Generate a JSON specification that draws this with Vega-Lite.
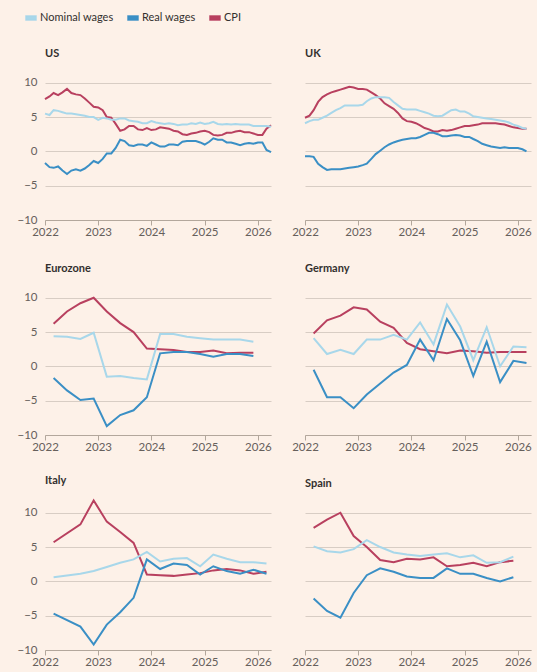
{
  "$schema": "https://vega.github.io/schema/vega-lite/v6.json",
  "background": "#fdf1e8",
  "padding": {"left": 16, "top": 12, "right": 5, "bottom": 5},
  "data": {
    "format": {"parse": {"d": "utc:'%Y-%m-%d'"}},
    "values": [
      {"c":"US","s":"CPI","d":"2022-01-01","v":7.6},{"c":"US","s":"CPI","d":"2022-02-01","v":8.0},{"c":"US","s":"CPI","d":"2022-03-01","v":8.5},{"c":"US","s":"CPI","d":"2022-04-01","v":8.2},{"c":"US","s":"CPI","d":"2022-05-01","v":8.6},{"c":"US","s":"CPI","d":"2022-06-01","v":9.1},{"c":"US","s":"CPI","d":"2022-07-01","v":8.5},{"c":"US","s":"CPI","d":"2022-08-01","v":8.3},{"c":"US","s":"CPI","d":"2022-09-01","v":8.2},{"c":"US","s":"CPI","d":"2022-10-01","v":7.7},{"c":"US","s":"CPI","d":"2022-11-01","v":7.1},{"c":"US","s":"CPI","d":"2022-12-01","v":6.5},
      {"c":"US","s":"CPI","d":"2023-01-01","v":6.4},{"c":"US","s":"CPI","d":"2023-02-01","v":6.0},{"c":"US","s":"CPI","d":"2023-03-01","v":5.0},{"c":"US","s":"CPI","d":"2023-04-01","v":4.9},{"c":"US","s":"CPI","d":"2023-05-01","v":4.0},{"c":"US","s":"CPI","d":"2023-06-01","v":3.0},{"c":"US","s":"CPI","d":"2023-07-01","v":3.2},{"c":"US","s":"CPI","d":"2023-08-01","v":3.7},{"c":"US","s":"CPI","d":"2023-09-01","v":3.7},{"c":"US","s":"CPI","d":"2023-10-01","v":3.2},{"c":"US","s":"CPI","d":"2023-11-01","v":3.1},{"c":"US","s":"CPI","d":"2023-12-01","v":3.4},
      {"c":"US","s":"CPI","d":"2024-01-01","v":3.1},{"c":"US","s":"CPI","d":"2024-02-01","v":3.2},{"c":"US","s":"CPI","d":"2024-03-01","v":3.5},{"c":"US","s":"CPI","d":"2024-04-01","v":3.4},{"c":"US","s":"CPI","d":"2024-05-01","v":3.3},{"c":"US","s":"CPI","d":"2024-06-01","v":3.0},{"c":"US","s":"CPI","d":"2024-07-01","v":2.9},{"c":"US","s":"CPI","d":"2024-08-01","v":2.5},{"c":"US","s":"CPI","d":"2024-09-01","v":2.4},{"c":"US","s":"CPI","d":"2024-10-01","v":2.6},{"c":"US","s":"CPI","d":"2024-11-01","v":2.7},{"c":"US","s":"CPI","d":"2024-12-01","v":2.9},
      {"c":"US","s":"CPI","d":"2025-01-01","v":3.0},{"c":"US","s":"CPI","d":"2025-02-01","v":2.8},{"c":"US","s":"CPI","d":"2025-03-01","v":2.4},{"c":"US","s":"CPI","d":"2025-04-01","v":2.3},{"c":"US","s":"CPI","d":"2025-05-01","v":2.4},{"c":"US","s":"CPI","d":"2025-06-01","v":2.7},{"c":"US","s":"CPI","d":"2025-07-01","v":2.7},{"c":"US","s":"CPI","d":"2025-08-01","v":2.9},{"c":"US","s":"CPI","d":"2025-09-01","v":3.0},{"c":"US","s":"CPI","d":"2025-10-01","v":2.8},{"c":"US","s":"CPI","d":"2025-11-01","v":2.8},{"c":"US","s":"CPI","d":"2025-12-01","v":2.6},
      {"c":"US","s":"CPI","d":"2026-01-01","v":2.4},{"c":"US","s":"CPI","d":"2026-02-01","v":2.4},{"c":"US","s":"CPI","d":"2026-03-01","v":3.3},{"c":"US","s":"CPI","d":"2026-04-01","v":3.8},

      {"c":"US","s":"Nominal wages","d":"2022-01-01","v":5.5},{"c":"US","s":"Nominal wages","d":"2022-02-01","v":5.3},{"c":"US","s":"Nominal wages","d":"2022-03-01","v":6.0},{"c":"US","s":"Nominal wages","d":"2022-04-01","v":5.9},{"c":"US","s":"Nominal wages","d":"2022-05-01","v":5.7},{"c":"US","s":"Nominal wages","d":"2022-06-01","v":5.5},{"c":"US","s":"Nominal wages","d":"2022-07-01","v":5.5},{"c":"US","s":"Nominal wages","d":"2022-08-01","v":5.4},{"c":"US","s":"Nominal wages","d":"2022-09-01","v":5.3},{"c":"US","s":"Nominal wages","d":"2022-10-01","v":5.2},{"c":"US","s":"Nominal wages","d":"2022-11-01","v":5.0},{"c":"US","s":"Nominal wages","d":"2022-12-01","v":5.0},
      {"c":"US","s":"Nominal wages","d":"2023-01-01","v":4.6},{"c":"US","s":"Nominal wages","d":"2023-02-01","v":4.9},{"c":"US","s":"Nominal wages","d":"2023-03-01","v":4.8},{"c":"US","s":"Nominal wages","d":"2023-04-01","v":4.6},{"c":"US","s":"Nominal wages","d":"2023-05-01","v":4.6},{"c":"US","s":"Nominal wages","d":"2023-06-01","v":4.8},{"c":"US","s":"Nominal wages","d":"2023-07-01","v":4.8},{"c":"US","s":"Nominal wages","d":"2023-08-01","v":4.5},{"c":"US","s":"Nominal wages","d":"2023-09-01","v":4.4},{"c":"US","s":"Nominal wages","d":"2023-10-01","v":4.3},{"c":"US","s":"Nominal wages","d":"2023-11-01","v":4.1},{"c":"US","s":"Nominal wages","d":"2023-12-01","v":4.1},
      {"c":"US","s":"Nominal wages","d":"2024-01-01","v":4.4},{"c":"US","s":"Nominal wages","d":"2024-02-01","v":4.2},{"c":"US","s":"Nominal wages","d":"2024-03-01","v":4.1},{"c":"US","s":"Nominal wages","d":"2024-04-01","v":4.0},{"c":"US","s":"Nominal wages","d":"2024-05-01","v":4.1},{"c":"US","s":"Nominal wages","d":"2024-06-01","v":4.0},{"c":"US","s":"Nominal wages","d":"2024-07-01","v":3.8},{"c":"US","s":"Nominal wages","d":"2024-08-01","v":3.9},{"c":"US","s":"Nominal wages","d":"2024-09-01","v":3.9},{"c":"US","s":"Nominal wages","d":"2024-10-01","v":4.1},{"c":"US","s":"Nominal wages","d":"2024-11-01","v":4.0},{"c":"US","s":"Nominal wages","d":"2024-12-01","v":4.2},
      {"c":"US","s":"Nominal wages","d":"2025-01-01","v":4.0},{"c":"US","s":"Nominal wages","d":"2025-02-01","v":4.1},{"c":"US","s":"Nominal wages","d":"2025-03-01","v":4.3},{"c":"US","s":"Nominal wages","d":"2025-04-01","v":4.0},{"c":"US","s":"Nominal wages","d":"2025-05-01","v":3.9},{"c":"US","s":"Nominal wages","d":"2025-06-01","v":4.0},{"c":"US","s":"Nominal wages","d":"2025-07-01","v":3.9},{"c":"US","s":"Nominal wages","d":"2025-08-01","v":4.0},{"c":"US","s":"Nominal wages","d":"2025-09-01","v":3.9},{"c":"US","s":"Nominal wages","d":"2025-10-01","v":3.9},{"c":"US","s":"Nominal wages","d":"2025-11-01","v":3.9},{"c":"US","s":"Nominal wages","d":"2025-12-01","v":3.7},
      {"c":"US","s":"Nominal wages","d":"2026-01-01","v":3.7},{"c":"US","s":"Nominal wages","d":"2026-02-01","v":3.7},{"c":"US","s":"Nominal wages","d":"2026-03-01","v":3.7},{"c":"US","s":"Nominal wages","d":"2026-04-01","v":3.6},

      {"c":"US","s":"Real wages","d":"2022-01-01","v":-1.7},{"c":"US","s":"Real wages","d":"2022-02-01","v":-2.3},{"c":"US","s":"Real wages","d":"2022-03-01","v":-2.4},{"c":"US","s":"Real wages","d":"2022-04-01","v":-2.2},{"c":"US","s":"Real wages","d":"2022-05-01","v":-2.8},{"c":"US","s":"Real wages","d":"2022-06-01","v":-3.3},{"c":"US","s":"Real wages","d":"2022-07-01","v":-2.8},{"c":"US","s":"Real wages","d":"2022-08-01","v":-2.6},{"c":"US","s":"Real wages","d":"2022-09-01","v":-2.8},{"c":"US","s":"Real wages","d":"2022-10-01","v":-2.5},{"c":"US","s":"Real wages","d":"2022-11-01","v":-2.0},{"c":"US","s":"Real wages","d":"2022-12-01","v":-1.4},
      {"c":"US","s":"Real wages","d":"2023-01-01","v":-1.7},{"c":"US","s":"Real wages","d":"2023-02-01","v":-1.1},{"c":"US","s":"Real wages","d":"2023-03-01","v":-0.3},{"c":"US","s":"Real wages","d":"2023-04-01","v":-0.3},{"c":"US","s":"Real wages","d":"2023-05-01","v":0.5},{"c":"US","s":"Real wages","d":"2023-06-01","v":1.7},{"c":"US","s":"Real wages","d":"2023-07-01","v":1.5},{"c":"US","s":"Real wages","d":"2023-08-01","v":0.9},{"c":"US","s":"Real wages","d":"2023-09-01","v":0.8},{"c":"US","s":"Real wages","d":"2023-10-01","v":1.0},{"c":"US","s":"Real wages","d":"2023-11-01","v":1.0},{"c":"US","s":"Real wages","d":"2023-12-01","v":0.8},
      {"c":"US","s":"Real wages","d":"2024-01-01","v":1.3},{"c":"US","s":"Real wages","d":"2024-02-01","v":1.0},{"c":"US","s":"Real wages","d":"2024-03-01","v":0.7},{"c":"US","s":"Real wages","d":"2024-04-01","v":0.7},{"c":"US","s":"Real wages","d":"2024-05-01","v":1.0},{"c":"US","s":"Real wages","d":"2024-06-01","v":1.0},{"c":"US","s":"Real wages","d":"2024-07-01","v":0.9},{"c":"US","s":"Real wages","d":"2024-08-01","v":1.4},{"c":"US","s":"Real wages","d":"2024-09-01","v":1.5},{"c":"US","s":"Real wages","d":"2024-10-01","v":1.5},{"c":"US","s":"Real wages","d":"2024-11-01","v":1.5},{"c":"US","s":"Real wages","d":"2024-12-01","v":1.3},
      {"c":"US","s":"Real wages","d":"2025-01-01","v":1.0},{"c":"US","s":"Real wages","d":"2025-02-01","v":1.4},{"c":"US","s":"Real wages","d":"2025-03-01","v":1.9},{"c":"US","s":"Real wages","d":"2025-04-01","v":1.7},{"c":"US","s":"Real wages","d":"2025-05-01","v":1.7},{"c":"US","s":"Real wages","d":"2025-06-01","v":1.3},{"c":"US","s":"Real wages","d":"2025-07-01","v":1.3},{"c":"US","s":"Real wages","d":"2025-08-01","v":1.1},{"c":"US","s":"Real wages","d":"2025-09-01","v":0.9},{"c":"US","s":"Real wages","d":"2025-10-01","v":1.1},{"c":"US","s":"Real wages","d":"2025-11-01","v":1.2},{"c":"US","s":"Real wages","d":"2025-12-01","v":1.1},
      {"c":"US","s":"Real wages","d":"2026-01-01","v":1.3},{"c":"US","s":"Real wages","d":"2026-02-01","v":1.3},{"c":"US","s":"Real wages","d":"2026-03-01","v":0.2},{"c":"US","s":"Real wages","d":"2026-04-01","v":-0.1},

      {"c":"UK","s":"CPI","d":"2022-01-01","v":4.9},{"c":"UK","s":"CPI","d":"2022-02-01","v":5.2},{"c":"UK","s":"CPI","d":"2022-03-01","v":6.0},{"c":"UK","s":"CPI","d":"2022-04-01","v":7.2},{"c":"UK","s":"CPI","d":"2022-05-01","v":7.9},{"c":"UK","s":"CPI","d":"2022-06-01","v":8.3},{"c":"UK","s":"CPI","d":"2022-07-01","v":8.6},{"c":"UK","s":"CPI","d":"2022-08-01","v":8.8},{"c":"UK","s":"CPI","d":"2022-09-01","v":9.0},{"c":"UK","s":"CPI","d":"2022-10-01","v":9.2},{"c":"UK","s":"CPI","d":"2022-11-01","v":9.4},{"c":"UK","s":"CPI","d":"2022-12-01","v":9.3},
      {"c":"UK","s":"CPI","d":"2023-01-01","v":9.1},{"c":"UK","s":"CPI","d":"2023-02-01","v":9.1},{"c":"UK","s":"CPI","d":"2023-03-01","v":9.0},{"c":"UK","s":"CPI","d":"2023-04-01","v":8.6},{"c":"UK","s":"CPI","d":"2023-05-01","v":8.2},{"c":"UK","s":"CPI","d":"2023-06-01","v":7.7},{"c":"UK","s":"CPI","d":"2023-07-01","v":7.0},{"c":"UK","s":"CPI","d":"2023-08-01","v":6.6},{"c":"UK","s":"CPI","d":"2023-09-01","v":6.2},{"c":"UK","s":"CPI","d":"2023-10-01","v":5.6},{"c":"UK","s":"CPI","d":"2023-11-01","v":4.8},{"c":"UK","s":"CPI","d":"2023-12-01","v":4.4},
      {"c":"UK","s":"CPI","d":"2024-01-01","v":4.3},{"c":"UK","s":"CPI","d":"2024-02-01","v":4.1},{"c":"UK","s":"CPI","d":"2024-03-01","v":3.8},{"c":"UK","s":"CPI","d":"2024-04-01","v":3.4},{"c":"UK","s":"CPI","d":"2024-05-01","v":3.2},{"c":"UK","s":"CPI","d":"2024-06-01","v":2.9},{"c":"UK","s":"CPI","d":"2024-07-01","v":2.9},{"c":"UK","s":"CPI","d":"2024-08-01","v":3.1},{"c":"UK","s":"CPI","d":"2024-09-01","v":3.0},{"c":"UK","s":"CPI","d":"2024-10-01","v":3.1},{"c":"UK","s":"CPI","d":"2024-11-01","v":3.3},{"c":"UK","s":"CPI","d":"2024-12-01","v":3.5},
      {"c":"UK","s":"CPI","d":"2025-01-01","v":3.7},{"c":"UK","s":"CPI","d":"2025-02-01","v":3.7},{"c":"UK","s":"CPI","d":"2025-03-01","v":3.8},{"c":"UK","s":"CPI","d":"2025-04-01","v":3.9},{"c":"UK","s":"CPI","d":"2025-05-01","v":4.1},{"c":"UK","s":"CPI","d":"2025-06-01","v":4.1},{"c":"UK","s":"CPI","d":"2025-07-01","v":4.1},{"c":"UK","s":"CPI","d":"2025-08-01","v":4.1},{"c":"UK","s":"CPI","d":"2025-09-01","v":4.0},{"c":"UK","s":"CPI","d":"2025-10-01","v":3.9},{"c":"UK","s":"CPI","d":"2025-11-01","v":3.7},{"c":"UK","s":"CPI","d":"2025-12-01","v":3.5},
      {"c":"UK","s":"CPI","d":"2026-01-01","v":3.4},{"c":"UK","s":"CPI","d":"2026-02-01","v":3.3},{"c":"UK","s":"CPI","d":"2026-03-01","v":3.3},

      {"c":"UK","s":"Nominal wages","d":"2022-01-01","v":4.1},{"c":"UK","s":"Nominal wages","d":"2022-02-01","v":4.4},{"c":"UK","s":"Nominal wages","d":"2022-03-01","v":4.6},{"c":"UK","s":"Nominal wages","d":"2022-04-01","v":4.6},{"c":"UK","s":"Nominal wages","d":"2022-05-01","v":4.9},{"c":"UK","s":"Nominal wages","d":"2022-06-01","v":5.2},{"c":"UK","s":"Nominal wages","d":"2022-07-01","v":5.6},{"c":"UK","s":"Nominal wages","d":"2022-08-01","v":6.0},{"c":"UK","s":"Nominal wages","d":"2022-09-01","v":6.3},{"c":"UK","s":"Nominal wages","d":"2022-10-01","v":6.7},{"c":"UK","s":"Nominal wages","d":"2022-11-01","v":6.7},{"c":"UK","s":"Nominal wages","d":"2022-12-01","v":6.7},
      {"c":"UK","s":"Nominal wages","d":"2023-01-01","v":6.7},{"c":"UK","s":"Nominal wages","d":"2023-02-01","v":6.8},{"c":"UK","s":"Nominal wages","d":"2023-03-01","v":7.3},{"c":"UK","s":"Nominal wages","d":"2023-04-01","v":7.7},{"c":"UK","s":"Nominal wages","d":"2023-05-01","v":7.9},{"c":"UK","s":"Nominal wages","d":"2023-06-01","v":7.9},{"c":"UK","s":"Nominal wages","d":"2023-07-01","v":7.9},{"c":"UK","s":"Nominal wages","d":"2023-08-01","v":7.8},{"c":"UK","s":"Nominal wages","d":"2023-09-01","v":7.2},{"c":"UK","s":"Nominal wages","d":"2023-10-01","v":6.7},{"c":"UK","s":"Nominal wages","d":"2023-11-01","v":6.2},{"c":"UK","s":"Nominal wages","d":"2023-12-01","v":6.1},
      {"c":"UK","s":"Nominal wages","d":"2024-01-01","v":6.1},{"c":"UK","s":"Nominal wages","d":"2024-02-01","v":6.1},{"c":"UK","s":"Nominal wages","d":"2024-03-01","v":5.9},{"c":"UK","s":"Nominal wages","d":"2024-04-01","v":5.7},{"c":"UK","s":"Nominal wages","d":"2024-05-01","v":5.5},{"c":"UK","s":"Nominal wages","d":"2024-06-01","v":5.2},{"c":"UK","s":"Nominal wages","d":"2024-07-01","v":5.1},{"c":"UK","s":"Nominal wages","d":"2024-08-01","v":5.2},{"c":"UK","s":"Nominal wages","d":"2024-09-01","v":5.6},{"c":"UK","s":"Nominal wages","d":"2024-10-01","v":6.0},{"c":"UK","s":"Nominal wages","d":"2024-11-01","v":6.1},{"c":"UK","s":"Nominal wages","d":"2024-12-01","v":5.8},
      {"c":"UK","s":"Nominal wages","d":"2025-01-01","v":5.8},{"c":"UK","s":"Nominal wages","d":"2025-02-01","v":5.5},{"c":"UK","s":"Nominal wages","d":"2025-03-01","v":5.1},{"c":"UK","s":"Nominal wages","d":"2025-04-01","v":5.0},{"c":"UK","s":"Nominal wages","d":"2025-05-01","v":4.9},{"c":"UK","s":"Nominal wages","d":"2025-06-01","v":4.8},{"c":"UK","s":"Nominal wages","d":"2025-07-01","v":4.7},{"c":"UK","s":"Nominal wages","d":"2025-08-01","v":4.6},{"c":"UK","s":"Nominal wages","d":"2025-09-01","v":4.5},{"c":"UK","s":"Nominal wages","d":"2025-10-01","v":4.4},{"c":"UK","s":"Nominal wages","d":"2025-11-01","v":4.2},{"c":"UK","s":"Nominal wages","d":"2025-12-01","v":3.9},
      {"c":"UK","s":"Nominal wages","d":"2026-01-01","v":3.7},{"c":"UK","s":"Nominal wages","d":"2026-02-01","v":3.4},{"c":"UK","s":"Nominal wages","d":"2026-03-01","v":3.3},

      {"c":"UK","s":"Real wages","d":"2022-01-01","v":-0.7},{"c":"UK","s":"Real wages","d":"2022-02-01","v":-0.7},{"c":"UK","s":"Real wages","d":"2022-03-01","v":-0.8},{"c":"UK","s":"Real wages","d":"2022-04-01","v":-1.8},{"c":"UK","s":"Real wages","d":"2022-05-01","v":-2.3},{"c":"UK","s":"Real wages","d":"2022-06-01","v":-2.7},{"c":"UK","s":"Real wages","d":"2022-07-01","v":-2.6},{"c":"UK","s":"Real wages","d":"2022-08-01","v":-2.6},{"c":"UK","s":"Real wages","d":"2022-09-01","v":-2.6},{"c":"UK","s":"Real wages","d":"2022-10-01","v":-2.5},{"c":"UK","s":"Real wages","d":"2022-11-01","v":-2.4},{"c":"UK","s":"Real wages","d":"2022-12-01","v":-2.3},
      {"c":"UK","s":"Real wages","d":"2023-01-01","v":-2.2},{"c":"UK","s":"Real wages","d":"2023-02-01","v":-2.0},{"c":"UK","s":"Real wages","d":"2023-03-01","v":-1.8},{"c":"UK","s":"Real wages","d":"2023-04-01","v":-1.1},{"c":"UK","s":"Real wages","d":"2023-05-01","v":-0.4},{"c":"UK","s":"Real wages","d":"2023-06-01","v":0.1},{"c":"UK","s":"Real wages","d":"2023-07-01","v":0.6},{"c":"UK","s":"Real wages","d":"2023-08-01","v":1.0},{"c":"UK","s":"Real wages","d":"2023-09-01","v":1.3},{"c":"UK","s":"Real wages","d":"2023-10-01","v":1.5},{"c":"UK","s":"Real wages","d":"2023-11-01","v":1.7},{"c":"UK","s":"Real wages","d":"2023-12-01","v":1.8},
      {"c":"UK","s":"Real wages","d":"2024-01-01","v":1.9},{"c":"UK","s":"Real wages","d":"2024-02-01","v":1.9},{"c":"UK","s":"Real wages","d":"2024-03-01","v":2.1},{"c":"UK","s":"Real wages","d":"2024-04-01","v":2.4},{"c":"UK","s":"Real wages","d":"2024-05-01","v":2.7},{"c":"UK","s":"Real wages","d":"2024-06-01","v":2.7},{"c":"UK","s":"Real wages","d":"2024-07-01","v":2.5},{"c":"UK","s":"Real wages","d":"2024-08-01","v":2.2},{"c":"UK","s":"Real wages","d":"2024-09-01","v":2.2},{"c":"UK","s":"Real wages","d":"2024-10-01","v":2.3},{"c":"UK","s":"Real wages","d":"2024-11-01","v":2.4},{"c":"UK","s":"Real wages","d":"2024-12-01","v":2.3},
      {"c":"UK","s":"Real wages","d":"2025-01-01","v":2.1},{"c":"UK","s":"Real wages","d":"2025-02-01","v":2.1},{"c":"UK","s":"Real wages","d":"2025-03-01","v":1.8},{"c":"UK","s":"Real wages","d":"2025-04-01","v":1.5},{"c":"UK","s":"Real wages","d":"2025-05-01","v":1.1},{"c":"UK","s":"Real wages","d":"2025-06-01","v":0.9},{"c":"UK","s":"Real wages","d":"2025-07-01","v":0.7},{"c":"UK","s":"Real wages","d":"2025-08-01","v":0.6},{"c":"UK","s":"Real wages","d":"2025-09-01","v":0.5},{"c":"UK","s":"Real wages","d":"2025-10-01","v":0.6},{"c":"UK","s":"Real wages","d":"2025-11-01","v":0.5},{"c":"UK","s":"Real wages","d":"2025-12-01","v":0.5},
      {"c":"UK","s":"Real wages","d":"2026-01-01","v":0.5},{"c":"UK","s":"Real wages","d":"2026-02-01","v":0.3},{"c":"UK","s":"Real wages","d":"2026-03-01","v":0.0},

      {"c":"Eurozone","s":"CPI","d":"2022-03-01","v":6.2},{"c":"Eurozone","s":"CPI","d":"2022-06-01","v":8.0},{"c":"Eurozone","s":"CPI","d":"2022-09-01","v":9.2},{"c":"Eurozone","s":"CPI","d":"2022-12-01","v":10.0},{"c":"Eurozone","s":"CPI","d":"2023-03-01","v":8.0},{"c":"Eurozone","s":"CPI","d":"2023-06-01","v":6.3},{"c":"Eurozone","s":"CPI","d":"2023-09-01","v":5.0},{"c":"Eurozone","s":"CPI","d":"2023-12-01","v":2.6},{"c":"Eurozone","s":"CPI","d":"2024-03-01","v":2.5},{"c":"Eurozone","s":"CPI","d":"2024-06-01","v":2.4},{"c":"Eurozone","s":"CPI","d":"2024-09-01","v":2.1},{"c":"Eurozone","s":"CPI","d":"2024-12-01","v":2.1},{"c":"Eurozone","s":"CPI","d":"2025-03-01","v":2.3},{"c":"Eurozone","s":"CPI","d":"2025-06-01","v":1.9},{"c":"Eurozone","s":"CPI","d":"2025-09-01","v":2.0},{"c":"Eurozone","s":"CPI","d":"2025-12-01","v":2.0},
      {"c":"Eurozone","s":"Nominal wages","d":"2022-03-01","v":4.4},{"c":"Eurozone","s":"Nominal wages","d":"2022-06-01","v":4.3},{"c":"Eurozone","s":"Nominal wages","d":"2022-09-01","v":4.0},{"c":"Eurozone","s":"Nominal wages","d":"2022-12-01","v":4.9},{"c":"Eurozone","s":"Nominal wages","d":"2023-03-01","v":-1.5},{"c":"Eurozone","s":"Nominal wages","d":"2023-06-01","v":-1.4},{"c":"Eurozone","s":"Nominal wages","d":"2023-09-01","v":-1.7},{"c":"Eurozone","s":"Nominal wages","d":"2023-12-01","v":-1.9},{"c":"Eurozone","s":"Nominal wages","d":"2024-03-01","v":4.7},{"c":"Eurozone","s":"Nominal wages","d":"2024-06-01","v":4.7},{"c":"Eurozone","s":"Nominal wages","d":"2024-09-01","v":4.3},{"c":"Eurozone","s":"Nominal wages","d":"2024-12-01","v":4.1},{"c":"Eurozone","s":"Nominal wages","d":"2025-03-01","v":3.9},{"c":"Eurozone","s":"Nominal wages","d":"2025-06-01","v":3.9},{"c":"Eurozone","s":"Nominal wages","d":"2025-09-01","v":3.9},{"c":"Eurozone","s":"Nominal wages","d":"2025-12-01","v":3.6},
      {"c":"Eurozone","s":"Real wages","d":"2022-03-01","v":-1.7},{"c":"Eurozone","s":"Real wages","d":"2022-06-01","v":-3.5},{"c":"Eurozone","s":"Real wages","d":"2022-09-01","v":-4.9},{"c":"Eurozone","s":"Real wages","d":"2022-12-01","v":-4.7},{"c":"Eurozone","s":"Real wages","d":"2023-03-01","v":-8.7},{"c":"Eurozone","s":"Real wages","d":"2023-06-01","v":-7.1},{"c":"Eurozone","s":"Real wages","d":"2023-09-01","v":-6.4},{"c":"Eurozone","s":"Real wages","d":"2023-12-01","v":-4.5},{"c":"Eurozone","s":"Real wages","d":"2024-03-01","v":1.9},{"c":"Eurozone","s":"Real wages","d":"2024-06-01","v":2.1},{"c":"Eurozone","s":"Real wages","d":"2024-09-01","v":2.1},{"c":"Eurozone","s":"Real wages","d":"2024-12-01","v":1.8},{"c":"Eurozone","s":"Real wages","d":"2025-03-01","v":1.4},{"c":"Eurozone","s":"Real wages","d":"2025-06-01","v":1.8},{"c":"Eurozone","s":"Real wages","d":"2025-09-01","v":1.8},{"c":"Eurozone","s":"Real wages","d":"2025-12-01","v":1.5},

      {"c":"Germany","s":"CPI","d":"2022-03-01","v":4.8},{"c":"Germany","s":"CPI","d":"2022-06-01","v":6.7},{"c":"Germany","s":"CPI","d":"2022-09-01","v":7.4},{"c":"Germany","s":"CPI","d":"2022-12-01","v":8.6},{"c":"Germany","s":"CPI","d":"2023-03-01","v":8.3},{"c":"Germany","s":"CPI","d":"2023-06-01","v":6.5},{"c":"Germany","s":"CPI","d":"2023-09-01","v":5.6},{"c":"Germany","s":"CPI","d":"2023-12-01","v":3.4},{"c":"Germany","s":"CPI","d":"2024-03-01","v":2.5},{"c":"Germany","s":"CPI","d":"2024-06-01","v":2.2},{"c":"Germany","s":"CPI","d":"2024-09-01","v":1.9},{"c":"Germany","s":"CPI","d":"2024-12-01","v":2.3},{"c":"Germany","s":"CPI","d":"2025-03-01","v":2.2},{"c":"Germany","s":"CPI","d":"2025-06-01","v":2.0},{"c":"Germany","s":"CPI","d":"2025-09-01","v":2.1},{"c":"Germany","s":"CPI","d":"2025-12-01","v":2.1},{"c":"Germany","s":"CPI","d":"2026-03-01","v":2.1},
      {"c":"Germany","s":"Nominal wages","d":"2022-03-01","v":4.1},{"c":"Germany","s":"Nominal wages","d":"2022-06-01","v":1.8},{"c":"Germany","s":"Nominal wages","d":"2022-09-01","v":2.4},{"c":"Germany","s":"Nominal wages","d":"2022-12-01","v":1.8},{"c":"Germany","s":"Nominal wages","d":"2023-03-01","v":3.9},{"c":"Germany","s":"Nominal wages","d":"2023-06-01","v":3.9},{"c":"Germany","s":"Nominal wages","d":"2023-09-01","v":4.6},{"c":"Germany","s":"Nominal wages","d":"2023-12-01","v":3.9},{"c":"Germany","s":"Nominal wages","d":"2024-03-01","v":6.4},{"c":"Germany","s":"Nominal wages","d":"2024-06-01","v":3.2},{"c":"Germany","s":"Nominal wages","d":"2024-09-01","v":9.0},{"c":"Germany","s":"Nominal wages","d":"2024-12-01","v":5.8},{"c":"Germany","s":"Nominal wages","d":"2025-03-01","v":0.9},{"c":"Germany","s":"Nominal wages","d":"2025-06-01","v":5.7},{"c":"Germany","s":"Nominal wages","d":"2025-09-01","v":0.0},{"c":"Germany","s":"Nominal wages","d":"2025-12-01","v":2.9},{"c":"Germany","s":"Nominal wages","d":"2026-03-01","v":2.8},
      {"c":"Germany","s":"Real wages","d":"2022-03-01","v":-0.5},{"c":"Germany","s":"Real wages","d":"2022-06-01","v":-4.5},{"c":"Germany","s":"Real wages","d":"2022-09-01","v":-4.5},{"c":"Germany","s":"Real wages","d":"2022-12-01","v":-6.1},{"c":"Germany","s":"Real wages","d":"2023-03-01","v":-4.1},{"c":"Germany","s":"Real wages","d":"2023-06-01","v":-2.5},{"c":"Germany","s":"Real wages","d":"2023-09-01","v":-0.9},{"c":"Germany","s":"Real wages","d":"2023-12-01","v":0.2},{"c":"Germany","s":"Real wages","d":"2024-03-01","v":3.9},{"c":"Germany","s":"Real wages","d":"2024-06-01","v":0.9},{"c":"Germany","s":"Real wages","d":"2024-09-01","v":6.9},{"c":"Germany","s":"Real wages","d":"2024-12-01","v":3.8},{"c":"Germany","s":"Real wages","d":"2025-03-01","v":-1.4},{"c":"Germany","s":"Real wages","d":"2025-06-01","v":3.6},{"c":"Germany","s":"Real wages","d":"2025-09-01","v":-2.3},{"c":"Germany","s":"Real wages","d":"2025-12-01","v":0.8},{"c":"Germany","s":"Real wages","d":"2026-03-01","v":0.5},

      {"c":"Italy","s":"CPI","d":"2022-03-01","v":5.7},{"c":"Italy","s":"CPI","d":"2022-09-01","v":8.3},{"c":"Italy","s":"CPI","d":"2022-12-01","v":11.8},{"c":"Italy","s":"CPI","d":"2023-03-01","v":8.7},{"c":"Italy","s":"CPI","d":"2023-06-01","v":7.2},{"c":"Italy","s":"CPI","d":"2023-09-01","v":5.6},{"c":"Italy","s":"CPI","d":"2023-12-01","v":1.0},{"c":"Italy","s":"CPI","d":"2024-03-01","v":0.9},{"c":"Italy","s":"CPI","d":"2024-06-01","v":0.8},{"c":"Italy","s":"CPI","d":"2024-09-01","v":1.0},{"c":"Italy","s":"CPI","d":"2024-12-01","v":1.2},{"c":"Italy","s":"CPI","d":"2025-03-01","v":1.6},{"c":"Italy","s":"CPI","d":"2025-06-01","v":1.8},{"c":"Italy","s":"CPI","d":"2025-09-01","v":1.6},{"c":"Italy","s":"CPI","d":"2025-12-01","v":1.1},{"c":"Italy","s":"CPI","d":"2026-03-01","v":1.4},
      {"c":"Italy","s":"Nominal wages","d":"2022-03-01","v":0.6},{"c":"Italy","s":"Nominal wages","d":"2022-09-01","v":1.1},{"c":"Italy","s":"Nominal wages","d":"2022-12-01","v":1.5},{"c":"Italy","s":"Nominal wages","d":"2023-03-01","v":2.1},{"c":"Italy","s":"Nominal wages","d":"2023-06-01","v":2.7},{"c":"Italy","s":"Nominal wages","d":"2023-09-01","v":3.2},{"c":"Italy","s":"Nominal wages","d":"2023-12-01","v":4.3},{"c":"Italy","s":"Nominal wages","d":"2024-03-01","v":2.9},{"c":"Italy","s":"Nominal wages","d":"2024-06-01","v":3.3},{"c":"Italy","s":"Nominal wages","d":"2024-09-01","v":3.4},{"c":"Italy","s":"Nominal wages","d":"2024-12-01","v":2.2},{"c":"Italy","s":"Nominal wages","d":"2025-03-01","v":3.9},{"c":"Italy","s":"Nominal wages","d":"2025-06-01","v":3.3},{"c":"Italy","s":"Nominal wages","d":"2025-09-01","v":2.8},{"c":"Italy","s":"Nominal wages","d":"2025-12-01","v":2.8},{"c":"Italy","s":"Nominal wages","d":"2026-03-01","v":2.6},
      {"c":"Italy","s":"Real wages","d":"2022-03-01","v":-4.7},{"c":"Italy","s":"Real wages","d":"2022-09-01","v":-6.6},{"c":"Italy","s":"Real wages","d":"2022-12-01","v":-9.2},{"c":"Italy","s":"Real wages","d":"2023-03-01","v":-6.3},{"c":"Italy","s":"Real wages","d":"2023-06-01","v":-4.5},{"c":"Italy","s":"Real wages","d":"2023-09-01","v":-2.4},{"c":"Italy","s":"Real wages","d":"2023-12-01","v":3.2},{"c":"Italy","s":"Real wages","d":"2024-03-01","v":1.8},{"c":"Italy","s":"Real wages","d":"2024-06-01","v":2.6},{"c":"Italy","s":"Real wages","d":"2024-09-01","v":2.4},{"c":"Italy","s":"Real wages","d":"2024-12-01","v":1.0},{"c":"Italy","s":"Real wages","d":"2025-03-01","v":2.2},{"c":"Italy","s":"Real wages","d":"2025-06-01","v":1.5},{"c":"Italy","s":"Real wages","d":"2025-09-01","v":1.1},{"c":"Italy","s":"Real wages","d":"2025-12-01","v":1.7},{"c":"Italy","s":"Real wages","d":"2026-03-01","v":1.1},

      {"c":"Spain","s":"CPI","d":"2022-03-01","v":7.8},{"c":"Spain","s":"CPI","d":"2022-06-01","v":9.0},{"c":"Spain","s":"CPI","d":"2022-09-01","v":10.0},{"c":"Spain","s":"CPI","d":"2022-12-01","v":6.6},{"c":"Spain","s":"CPI","d":"2023-03-01","v":5.0},{"c":"Spain","s":"CPI","d":"2023-06-01","v":3.1},{"c":"Spain","s":"CPI","d":"2023-09-01","v":2.8},{"c":"Spain","s":"CPI","d":"2023-12-01","v":3.3},{"c":"Spain","s":"CPI","d":"2024-03-01","v":3.2},{"c":"Spain","s":"CPI","d":"2024-06-01","v":3.5},{"c":"Spain","s":"CPI","d":"2024-09-01","v":2.2},{"c":"Spain","s":"CPI","d":"2024-12-01","v":2.4},{"c":"Spain","s":"CPI","d":"2025-03-01","v":2.7},{"c":"Spain","s":"CPI","d":"2025-06-01","v":2.2},{"c":"Spain","s":"CPI","d":"2025-09-01","v":2.8},{"c":"Spain","s":"CPI","d":"2025-12-01","v":3.0},
      {"c":"Spain","s":"Nominal wages","d":"2022-03-01","v":5.1},{"c":"Spain","s":"Nominal wages","d":"2022-06-01","v":4.4},{"c":"Spain","s":"Nominal wages","d":"2022-09-01","v":4.2},{"c":"Spain","s":"Nominal wages","d":"2022-12-01","v":4.7},{"c":"Spain","s":"Nominal wages","d":"2023-03-01","v":6.0},{"c":"Spain","s":"Nominal wages","d":"2023-06-01","v":5.0},{"c":"Spain","s":"Nominal wages","d":"2023-09-01","v":4.2},{"c":"Spain","s":"Nominal wages","d":"2023-12-01","v":3.9},{"c":"Spain","s":"Nominal wages","d":"2024-03-01","v":3.7},{"c":"Spain","s":"Nominal wages","d":"2024-06-01","v":3.9},{"c":"Spain","s":"Nominal wages","d":"2024-09-01","v":4.1},{"c":"Spain","s":"Nominal wages","d":"2024-12-01","v":3.5},{"c":"Spain","s":"Nominal wages","d":"2025-03-01","v":3.8},{"c":"Spain","s":"Nominal wages","d":"2025-06-01","v":2.7},{"c":"Spain","s":"Nominal wages","d":"2025-09-01","v":2.8},{"c":"Spain","s":"Nominal wages","d":"2025-12-01","v":3.6},
      {"c":"Spain","s":"Real wages","d":"2022-03-01","v":-2.5},{"c":"Spain","s":"Real wages","d":"2022-06-01","v":-4.3},{"c":"Spain","s":"Real wages","d":"2022-09-01","v":-5.3},{"c":"Spain","s":"Real wages","d":"2022-12-01","v":-1.7},{"c":"Spain","s":"Real wages","d":"2023-03-01","v":0.9},{"c":"Spain","s":"Real wages","d":"2023-06-01","v":1.9},{"c":"Spain","s":"Real wages","d":"2023-09-01","v":1.4},{"c":"Spain","s":"Real wages","d":"2023-12-01","v":0.7},{"c":"Spain","s":"Real wages","d":"2024-03-01","v":0.5},{"c":"Spain","s":"Real wages","d":"2024-06-01","v":0.5},{"c":"Spain","s":"Real wages","d":"2024-09-01","v":1.9},{"c":"Spain","s":"Real wages","d":"2024-12-01","v":1.1},{"c":"Spain","s":"Real wages","d":"2025-03-01","v":1.1},{"c":"Spain","s":"Real wages","d":"2025-06-01","v":0.5},{"c":"Spain","s":"Real wages","d":"2025-09-01","v":0.0},{"c":"Spain","s":"Real wages","d":"2025-12-01","v":0.6}
    ]
  },
  "facet": {
    "field": "c",
    "type": "nominal",
    "sort": ["US", "UK", "Eurozone", "Germany", "Italy", "Spain"],
    "header": {
      "title": null,
      "labelAnchor": "start",
      "labelAlign": "left",
      "labelFont": "Lato",
      "labelFontSize": 11,
      "labelFontWeight": "bold",
      "labelColor": "#33302e",
      "labelPadding": 10
    }
  },
  "columns": 2,
  "spacing": {"row": 64, "column": 34},
  "bounds": "flush",
  "resolve": {"axis": {"x": "independent"}},
  "spec": {
    "width": 226,
    "height": 151,
    "mark": {"type": "line", "strokeWidth": 2},
    "encoding": {
      "x": {
        "field": "d",
        "type": "temporal",
        "scale": {
          "type": "utc",
          "domain": [
            {"year": 2022, "month": 1, "date": 1, "utc": true},
            {"year": 2026, "month": 4, "date": 1, "utc": true}
          ]
        },
        "axis": {
          "title": null,
          "values": [
            {"year": 2022, "month": 1, "date": 1, "utc": true},
            {"year": 2023, "month": 1, "date": 1, "utc": true},
            {"year": 2024, "month": 1, "date": 1, "utc": true},
            {"year": 2025, "month": 1, "date": 1, "utc": true},
            {"year": 2026, "month": 1, "date": 1, "utc": true}
          ],
          "format": "%Y",
          "grid": false,
          "labelFlush": false,
          "domainColor": "#b3a79c",
          "tickColor": "#b3a79c",
          "tickSize": 5,
          "labelPadding": 1,
          "labelFont": "Lato",
          "labelFontSize": 11.5,
          "labelColor": "#66605c"
        }
      },
      "y": {
        "field": "v",
        "type": "quantitative",
        "scale": {"domain": [-10, 12], "nice": false},
        "axis": {
          "title": null,
          "values": [-10, -5, 0, 5, 10],
          "domain": false,
          "ticks": false,
          "gridColor": "#d8cdc4",
          "labelPadding": 8,
          "labelFont": "Lato",
          "labelFontSize": 11.5,
          "labelColor": "#66605c"
        }
      },
      "color": {
        "field": "s",
        "type": "nominal",
        "scale": {
          "domain": ["Nominal wages", "Real wages", "CPI"],
          "range": ["#a8d7ea", "#3a8fc5", "#b8405f"]
        },
        "legend": {
          "title": null,
          "orient": "none",
          "legendX": -20,
          "legendY": -57,
          "direction": "horizontal",
          "symbolType": "M-1,-0.45H1V0.45H-1Z",
          "symbolSize": 120,
          "symbolStrokeWidth": 1,
          "labelFont": "Lato",
          "labelFontSize": 11,
          "labelColor": "#33302e",
          "labelOffset": 3,
          "columnPadding": 11,
          "encode": {
            "symbols": {
              "update": {
                "fill": {"scale": "color", "field": "value"},
                "stroke": {"value": "#3d3d3d"},
                "strokeOpacity": {"value": 0.45}
              }
            }
          }
        }
      }
    }
  },
  "config": {
    "view": {"stroke": null},
    "font": "Lato"
  }
}
